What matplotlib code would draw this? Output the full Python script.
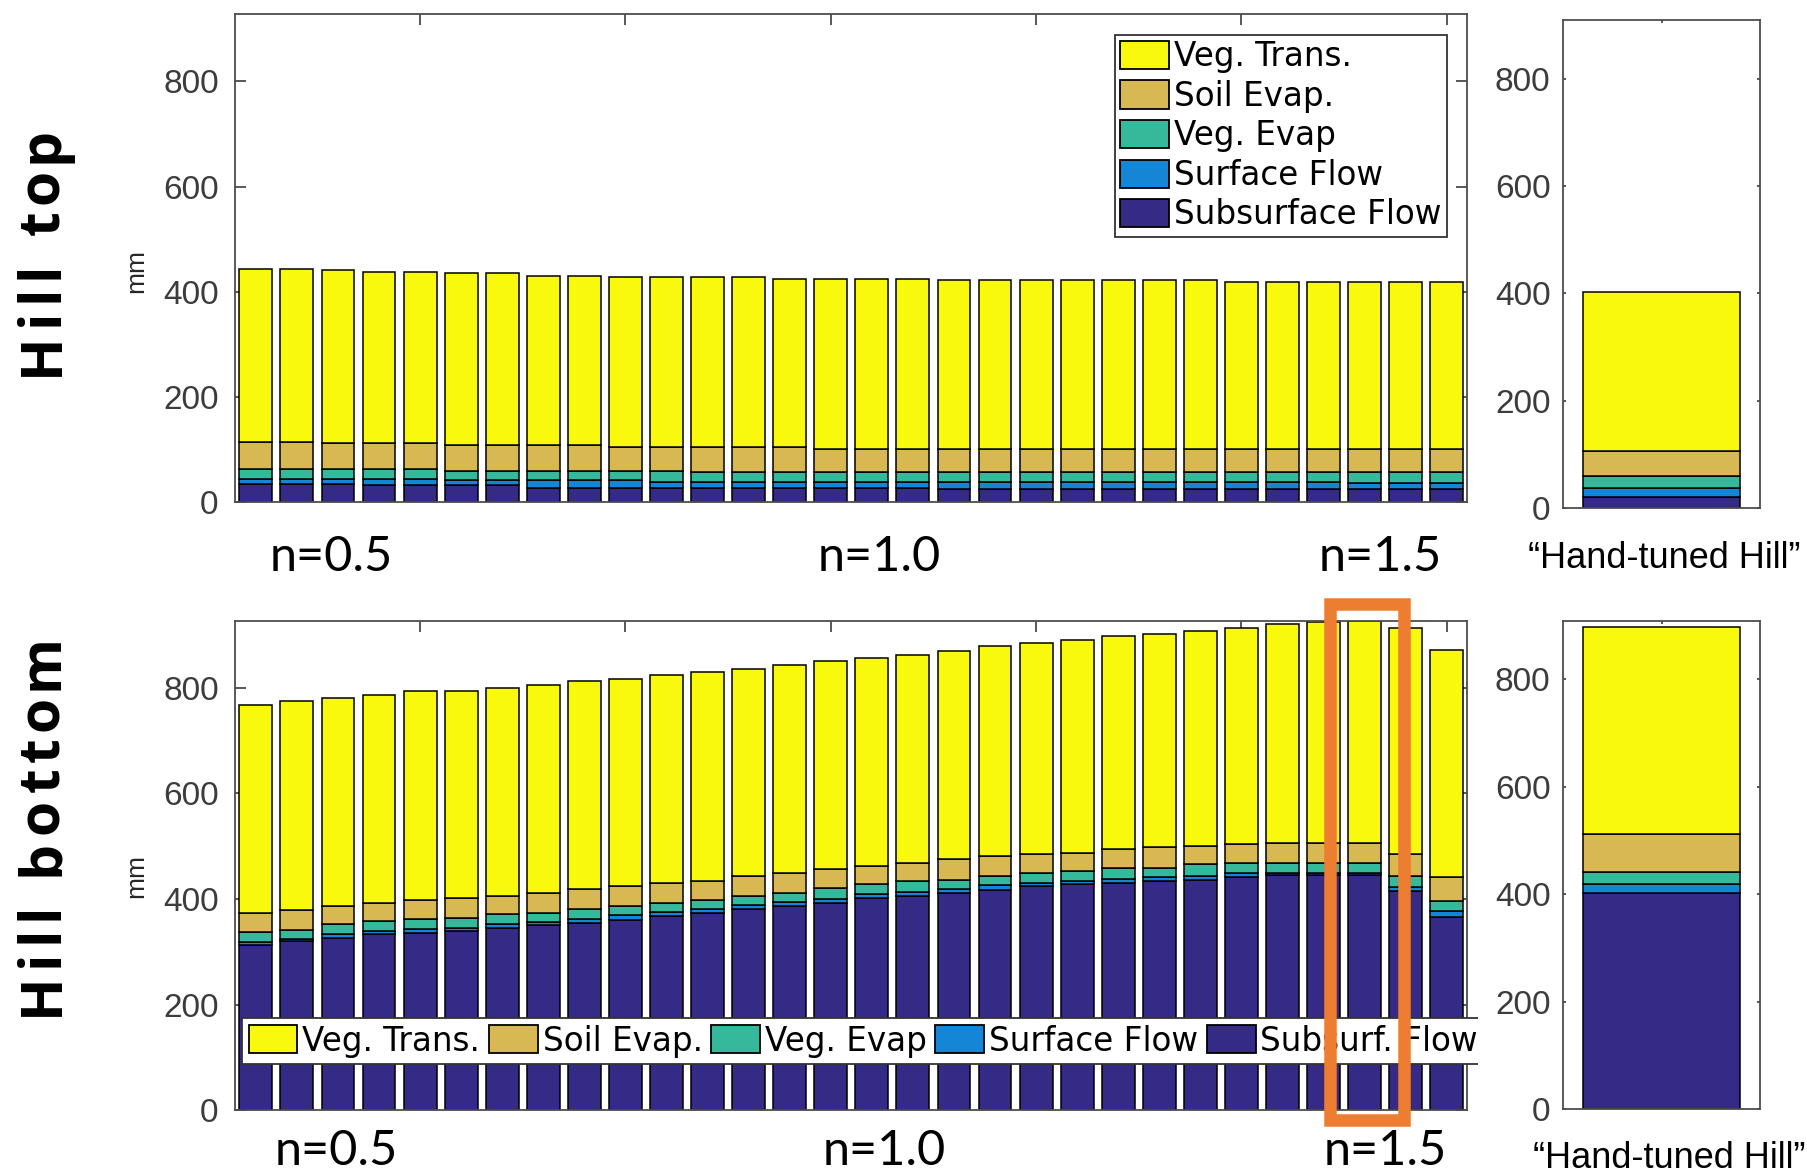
import matplotlib
matplotlib.use("Agg")
import matplotlib.pyplot as plt
import numpy as np
from matplotlib.patches import Rectangle, Patch
from matplotlib.font_manager import FontProperties
from matplotlib.transforms import Bbox, TransformedBbox

# ---------------- data (mm) ----------------
runs = list(range(1, 31))
series_labels = ["Veg. Trans.", "Soil Evap.", "Veg. Evap", "Surface Flow", "Subsurface Flow"]
bottom_legend_labels = ["Veg. Trans.", "Soil Evap.", "Veg. Evap", "Surface Flow", "Subsurf. Flow"]
n_labels = ["n=0.5", "n=1.0", "n=1.5"]
row_titles = ["Hill top", "Hill bottom"]
hand_label = "\u201cHand-tuned Hill\u201d"

# Hill top, 30 parameter runs
top_subsurface = [35, 35, 35, 32, 32, 32, 32, 28, 28, 28, 28, 28, 28, 28, 28,
                  28, 28, 25, 25, 25, 25, 25, 25, 25, 25, 25, 25, 25, 25, 25]
top_surface = [10, 10, 10, 13, 13, 10, 10, 14, 14, 14, 11, 11, 11, 11, 11,
               11, 11, 14, 14, 14, 14, 14, 14, 14, 14, 14, 14, 12, 12, 12]
top_veg_evap = [19, 19, 19, 19, 19, 18, 18, 18, 18, 18, 21, 19, 19, 19, 19,
                19, 19, 19, 19, 19, 19, 19, 19, 19, 19, 19, 19, 21, 21, 21]
top_soil_evap = [51, 51, 48, 48, 48, 48, 48, 48, 48, 45, 45, 47, 47, 47, 44,
                 44, 44, 44, 44, 44, 44, 44, 44, 44, 44, 44, 44, 44, 44, 44]
top_veg_trans = [329, 329, 329, 326, 326, 327, 327, 323, 323, 323, 323, 323, 323, 320, 323,
                 323, 323, 320, 320, 320, 320, 320, 320, 320, 317, 317, 317, 317, 317, 317]

# Hill bottom, 30 parameter runs
bot_subsurface = [314, 320, 326, 333, 336, 340, 345, 351, 355, 361, 368, 374, 381, 387, 393,
                  403, 406, 412, 418, 425, 428, 431, 434, 437, 442, 445, 445, 445, 415, 367]
bot_surface = [5, 4, 8, 7, 7, 6, 8, 6, 7, 8, 7, 8, 7, 7, 8,
               7, 7, 8, 8, 6, 6, 7, 7, 7, 7, 5, 5, 5, 7, 10]
bot_veg_evap = [19, 17, 18, 18, 19, 18, 18, 17, 19, 18, 18, 17, 18, 17, 20,
                18, 21, 17, 18, 19, 19, 21, 18, 22, 20, 19, 19, 19, 22, 19]
bot_soil_evap = [36, 39, 35, 35, 37, 39, 35, 38, 38, 38, 38, 36, 38, 39, 36,
                 35, 35, 39, 38, 35, 35, 36, 39, 35, 35, 38, 38, 38, 41, 45]
bot_veg_trans = [394, 395, 393, 394, 395, 391, 393, 394, 394, 391, 393, 394, 391, 394, 393,
                 394, 394, 393, 397, 400, 403, 403, 403, 407, 410, 413, 417, 419, 429, 431]

# Hand-tuned parameter set: [subsurface, surface, veg evap, soil evap, veg trans]
hand_top = [21, 16, 23, 47, 296]
hand_bottom = [402, 17, 22, 71, 384]

# ---------------- style ----------------
colors = ["#F9F90E", "#D7B852", "#36B89B", "#1585D6", "#352A86"]  # trans, soil, vegE, surf, subsurf
W, H, DPI = 1808, 1175, 100
tick_font = "Liberation Sans"
legend_fp = FontProperties(family="DejaVu Sans", size=23.5)

fig = plt.figure(figsize=(W / DPI, H / DPI), dpi=DPI)
fig.patch.set_facecolor("white")


def px_axes(x0, y0, x1, y1):
    return fig.add_axes([x0 / W, 1 - y1 / H, (x1 - x0) / W, (y1 - y0) / H])


def stacked(ax, x, layers, width=0.8):
    base = np.zeros(len(x))
    for vals, col in layers:
        vals = np.asarray(vals, dtype=float)
        ax.bar(x, vals, width, bottom=base, color=col, edgecolor="black",
               linewidth=1.1, zorder=2)
        base += vals


def style(ax, ytop, xlim, xticks, tlen, pad):
    ax.set_xlim(*xlim)
    ax.set_ylim(0, ytop)
    ax.set_yticks([0, 200, 400, 600, 800])
    ax.set_xticks(xticks)
    ax.set_axisbelow(True)
    ax.tick_params(axis="both", direction="in", length=tlen, width=1.3,
                   color="#4a4a4a", top=True, right=True,
                   labelbottom=False, labeltop=False, labelright=False)
    ax.tick_params(axis="y", labelsize=24, labelcolor="#3c3c3c", pad=pad)
    for lab in ax.get_yticklabels():
        lab.set_fontfamily(tick_font)
    for s in ax.spines.values():
        s.set_color("#4d4d4d")
        s.set_linewidth(1.3)
        s.set_zorder(3)


def layers_of(sub, surf, vege, soil, trans):
    return [(sub, colors[4]), (surf, colors[3]), (vege, colors[2]),
            (soil, colors[1]), (trans, colors[0])]


x = np.array(runs)

# ---- Hill top, parameter sweep ----
ax1 = px_axes(235.3, 14, 1467.3, 502.3)
stacked(ax1, x, layers_of(top_subsurface, top_surface, top_veg_evap,
                          top_soil_evap, top_veg_trans))
style(ax1, 928, (0.5, 30.5), [5, 10, 15, 20, 25, 30], 8, 12)

# ---- Hill top, hand-tuned ----
ax2 = px_axes(1563, 20, 1760, 508)
stacked(ax2, [1], layers_of(*[[v] for v in hand_top]))
style(ax2, 909, (0.5, 1.5), [1], 2.5, 9)

# ---- Hill bottom, parameter sweep ----
ax3 = px_axes(235.3, 620.7, 1467.3, 1110.4)
stacked(ax3, x, layers_of(bot_subsurface, bot_surface, bot_veg_evap,
                          bot_soil_evap, bot_veg_trans))
style(ax3, 927, (0.5, 30.5), [5, 10, 15, 20, 25, 30], 8, 12)

# ---- Hill bottom, hand-tuned ----
ax4 = px_axes(1563, 621, 1760, 1109)
stacked(ax4, [1], layers_of(*[[v] for v in hand_bottom]))
style(ax4, 908, (0.5, 1.5), [1], 2.5, 9)

# ---- legends ----
handles = [Patch(facecolor=c, edgecolor="black", linewidth=1.3) for c in colors]

leg1 = ax1.legend(handles, series_labels, loc="upper right",
                  bbox_to_anchor=(1447 / W, 1 - 35 / H), bbox_transform=fig.transFigure,
                  prop=legend_fp, handlelength=1.5, handleheight=0.95,
                  labelspacing=0.2, handletextpad=0.17, borderpad=0.16,
                  borderaxespad=0, frameon=True, fancybox=False, framealpha=1)
leg1.get_frame().set_edgecolor("#333333")
leg1.get_frame().set_linewidth(1.3)

leg3 = ax3.legend(handles, bottom_legend_labels, loc="upper left", ncol=5,
                  bbox_to_anchor=(242 / W, 1 - 1018 / H), bbox_transform=fig.transFigure,
                  prop=legend_fp, handlelength=1.5, handleheight=0.95,
                  handletextpad=0.15, columnspacing=0.26, borderpad=0.2,
                  borderaxespad=0, frameon=True, fancybox=False, framealpha=1)
leg3.get_frame().set_edgecolor("#333333")
leg3.get_frame().set_linewidth(1.3)
leg3.set_zorder(5)
# the horizontal legend box runs out past the panel edge and is cut off there
leg3.legendPatch.set_clip_box(TransformedBbox(Bbox([[0, 0], [1478 / W, 1]]), fig.transFigure))
leg3.legendPatch.set_clip_on(True)

# ---- y-axis unit labels ----
for yc in (271, 876):
    fig.text(136 / W, 1 - yc / H, "mm", rotation=90, ha="center", va="center",
             fontsize=19, family=tick_font, color="#262626")

# ---- n labels under the sweep panels ----
n_x = [331, 879, 1380]
for yc, shift in ((557, 0), (1151, 5)):
    for xc, lab in zip(n_x, n_labels):
        fig.text((xc + shift) / W, 1 - yc / H, lab, ha="center", va="center",
                 fontsize=35, family="Lato", color="black")

# ---- hand-tuned captions ----
fig.text(1664 / W, 1 - 559 / H, hand_label, ha="center", va="center",
         fontsize=26, family=tick_font, color="black")
fig.text(1669 / W, 1 - 1159 / H, hand_label, ha="center", va="center",
         fontsize=26, family=tick_font, color="black")

# ---- row titles, letter-spaced and rotated ----
title_fp = FontProperties(family="Open Sans", weight="bold", size=41)
renderer = fig.canvas.get_renderer()


def text_w(s):
    w, _, _ = renderer.get_text_width_height_descent(s, title_fp, ismath=False)
    return w


def spaced_vertical(s, x_base, y_center, track):
    starts = [text_w(s[:i + 1]) - text_w(s[i]) if s[i] != " " else None
              for i in range(len(s))]
    total = text_w(s) + track * (len(s) - 1)
    y0 = y_center + total / 2.0
    for i, ch in enumerate(s):
        if ch == " ":
            continue
        pos = starts[i] + track * i
        fig.text(x_base / W, 1 - (y0 - pos) / H, ch, rotation=90,
                 rotation_mode="anchor", ha="left", va="baseline",
                 fontproperties=title_fp, color="black")


spaced_vertical(row_titles[0], 58, 251, 6)
spaced_vertical(row_titles[1], 58, 825, 6)

# ---- highlight box around the n=1.5 bottom run ----
box = Rectangle((1329.6 / W, 1 - 1120 / H), (1404 - 1329.6) / W, (1120 - 604) / H,
                transform=fig.transFigure, fill=False, edgecolor="#ED7D31",
                linewidth=9, zorder=20, joinstyle="miter")
fig.add_artist(box)

fig.savefig("out.png", dpi=DPI)
